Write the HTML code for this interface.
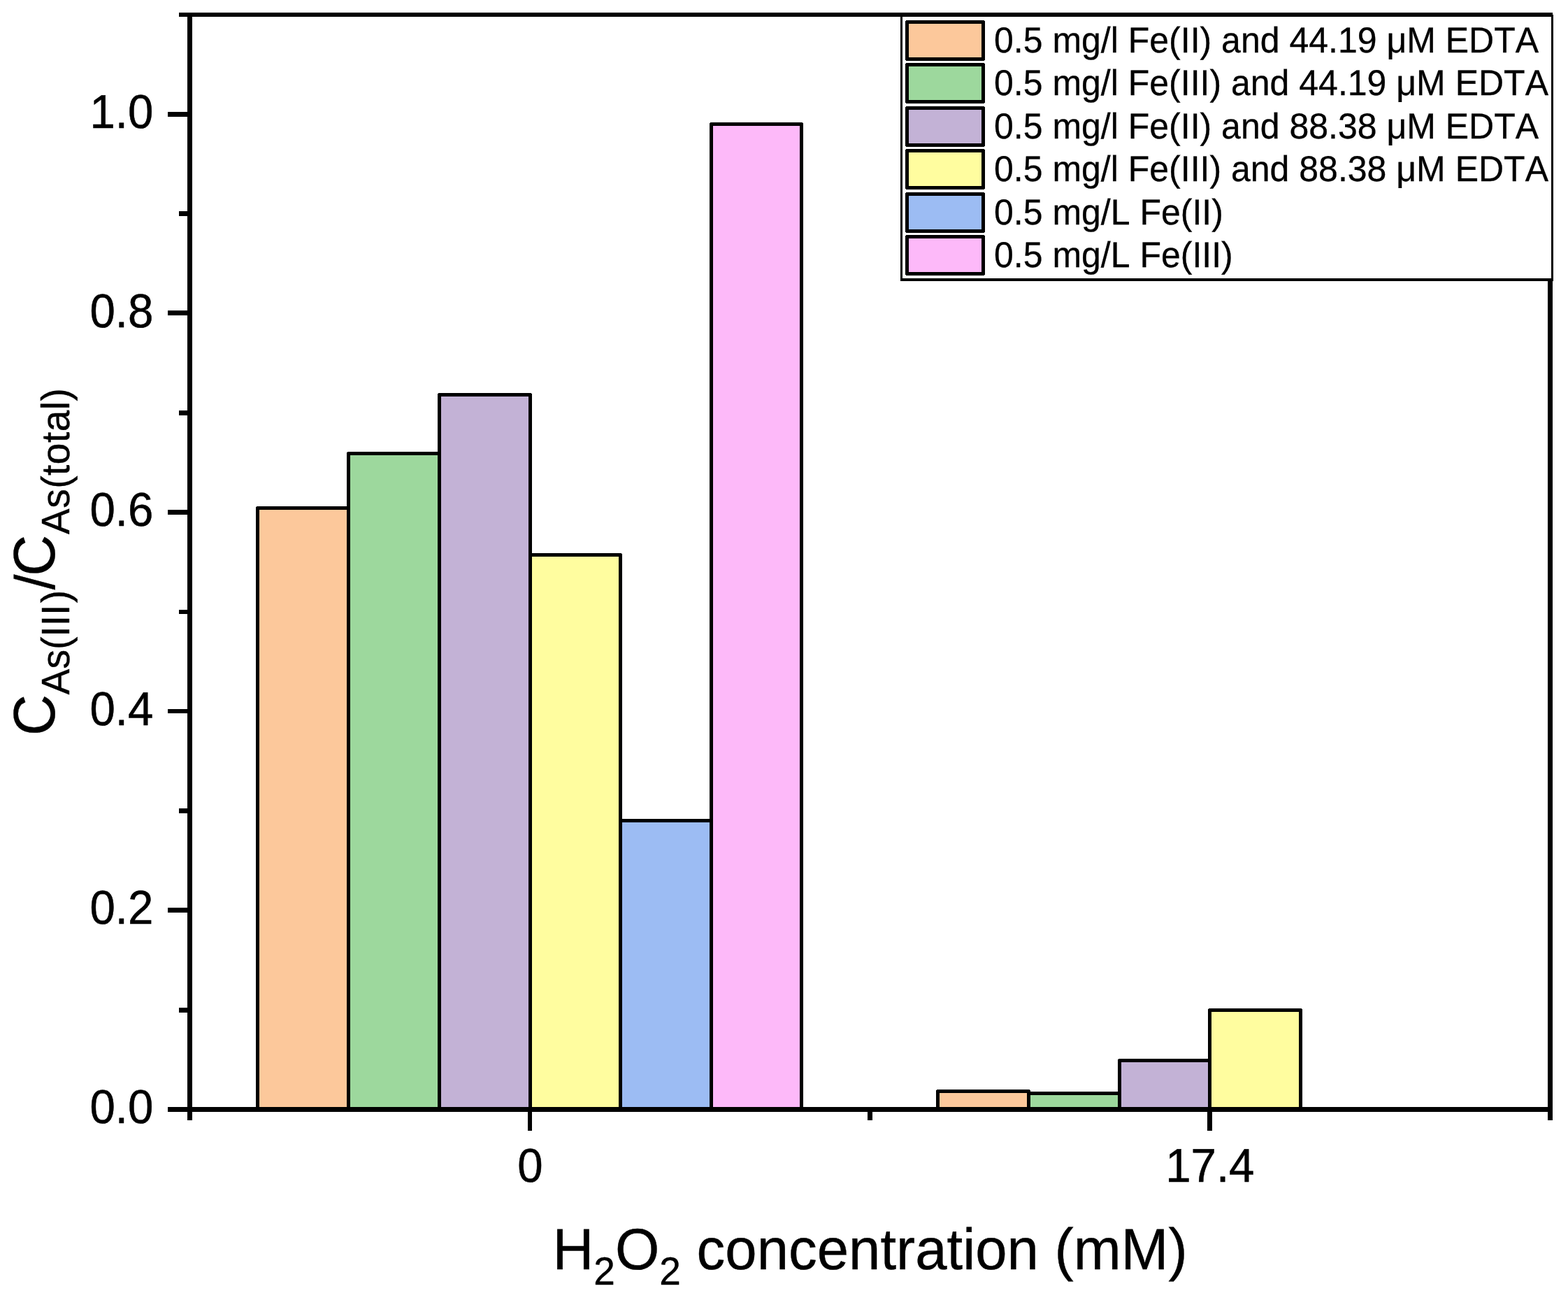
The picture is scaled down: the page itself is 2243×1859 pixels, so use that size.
<!DOCTYPE html>
<html lang="en"><head><meta charset="utf-8"><title>Chart</title>
<style>
html,body{margin:0;padding:0;background:#fff;}
body{width:2243px;height:1859px;overflow:hidden;}
svg{display:block;}
text{font-family:"Liberation Sans",Arial,Helvetica,sans-serif;fill:#000;font-kerning:none;text-rendering:geometricPrecision;}
.bar{stroke:#000;stroke-width:5;stroke-linejoin:round;}
.ax{fill:#000;}
.tl{font-size:65.4px;stroke:#000;stroke-width:0.5px;}
.lg{font-size:50px;stroke:#000;stroke-width:0.3px;}
.tt{font-size:81.5px;stroke:#000;stroke-width:0.4px;}
.sb{font-size:55px;}
</style></head><body>
<svg width="2243" height="1859" viewBox="0 0 2243 1859" shape-rendering="crispEdges" role="img" aria-label="Bar chart">
<rect x="0" y="0" width="2243" height="1859" fill="#fff"/>
<g id="bars">
<rect class="bar" x="368.5" y="726.5" width="130" height="860" fill="#FCC89B"/>
<rect class="bar" x="498.5" y="648.5" width="130" height="938" fill="#9DD89D"/>
<rect class="bar" x="628.5" y="564.5" width="130" height="1022" fill="#C3B2D6"/>
<rect class="bar" x="758.5" y="793.5" width="129" height="793" fill="#FFFD9F"/>
<rect class="bar" x="887.5" y="1173.5" width="130" height="413" fill="#9CBCF3"/>
<rect class="bar" x="1017.5" y="177.5" width="129" height="1409" fill="#FDB9F9"/>
<rect class="bar" x="1341.5" y="1560.5" width="130" height="26" fill="#FCC89B"/>
<rect class="bar" x="1471.5" y="1563.5" width="130" height="23" fill="#9DD89D"/>
<rect class="bar" x="1601.5" y="1516.5" width="129" height="70" fill="#C3B2D6"/>
<rect class="bar" x="1730.5" y="1444.5" width="130" height="142" fill="#FFFD9F"/>
</g>
<g id="axes" class="ax">
<rect x="256" y="18" width="1965" height="6"/>
<rect x="268" y="18" width="7" height="1584"/>
<rect x="2214" y="18" width="7" height="1584"/>
<rect x="240" y="1583" width="1981" height="7"/>
<rect x="240" y="160" width="30" height="7"/>
<rect x="240" y="444" width="30" height="7"/>
<rect x="240" y="729" width="30" height="7"/>
<rect x="240" y="1014" width="30" height="6"/>
<rect x="240" y="1298" width="30" height="7"/>
<rect x="256" y="302" width="14" height="7"/>
<rect x="256" y="587" width="14" height="7"/>
<rect x="256" y="872" width="14" height="6"/>
<rect x="256" y="1156" width="14" height="7"/>
<rect x="256" y="1441" width="14" height="7"/>
<rect x="755" y="1588" width="6" height="29"/>
<rect x="1727" y="1588" width="7" height="29"/>
<rect x="1241" y="1588" width="7" height="14"/>
</g>
<g id="ticklabels">
<text transform="translate(219.3,1606) scale(1,1.04)" class="tl" text-anchor="end">0.0</text>
<text transform="translate(219.3,1321) scale(1,1.04)" class="tl" text-anchor="end">0.2</text>
<text transform="translate(219.3,1037) scale(1,1.04)" class="tl" text-anchor="end">0.4</text>
<text transform="translate(219.3,752) scale(1,1.04)" class="tl" text-anchor="end">0.6</text>
<text transform="translate(219.3,468) scale(1,1.04)" class="tl" text-anchor="end">0.8</text>
<text transform="translate(219.3,183) scale(1,1.04)" class="tl" text-anchor="end">1.0</text>
<text transform="translate(758.5,1690) scale(1,1.04)" class="tl" text-anchor="middle">0</text>
<text transform="translate(1730.8,1690) scale(1,1.04)" class="tl" text-anchor="middle">17.4</text>
</g>
<g id="titles">
<text transform="translate(790.5,1815) scale(1,1.02)" class="tt">H<tspan class="sb" dy="21.6">2</tspan><tspan dy="-21.6">O</tspan><tspan class="sb" dy="21.6">2</tspan><tspan dy="-21.6"> concentration (mM)</tspan></text>
<text transform="translate(78,1052) rotate(-90) scale(1,1.03)" class="tt">C<tspan class="sb" dy="20.2">As(III<tspan dx="2.5">)</tspan></tspan><tspan dy="-20.2" dx="0.8" style="font-size:78px">/</tspan><tspan dx="-2.3">C</tspan><tspan class="sb" dy="20.2" dx="1" style="letter-spacing:0.5px">As(total)</tspan></text>
</g>
<g id="legend">
<rect x="1289.5" y="22.5" width="931" height="377.5" fill="#fff" stroke="#000" stroke-width="3"/>
<rect x="1288" y="398" width="934" height="4" fill="#000"/>
<rect x="1288" y="18" width="933" height="6" fill="#000"/>
<rect class="bar" x="1297.5" y="31.5" width="109" height="53" fill="#FCC89B"/>
<text transform="translate(1422,74.5) scale(1,1.03)" class="lg">0.5 mg/l Fe(II) and 44.19 μM EDTA</text>
<rect class="bar" x="1297.5" y="92.5" width="109" height="53" fill="#9DD89D"/>
<text transform="translate(1422,135.5) scale(1,1.03)" class="lg">0.5 mg/l Fe(III) and 44.19 μM EDTA</text>
<rect class="bar" x="1297.5" y="154.5" width="109" height="53" fill="#C3B2D6"/>
<text transform="translate(1422,197.5) scale(1,1.03)" class="lg">0.5 mg/l Fe(II) and 88.38 μM EDTA</text>
<rect class="bar" x="1297.5" y="215.5" width="109" height="53" fill="#FFFD9F"/>
<text transform="translate(1422,258.5) scale(1,1.03)" class="lg">0.5 mg/l Fe(III) and 88.38 μM EDTA</text>
<rect class="bar" x="1297.5" y="277.5" width="109" height="53" fill="#9CBCF3"/>
<text transform="translate(1422,320.5) scale(1,1.03)" class="lg">0.5 mg/L Fe(II)</text>
<rect class="bar" x="1297.5" y="338.5" width="109" height="53" fill="#FDB9F9"/>
<text transform="translate(1422,381.5) scale(1,1.03)" class="lg">0.5 mg/L Fe(III)</text>
</g>
</svg>
</body></html>
